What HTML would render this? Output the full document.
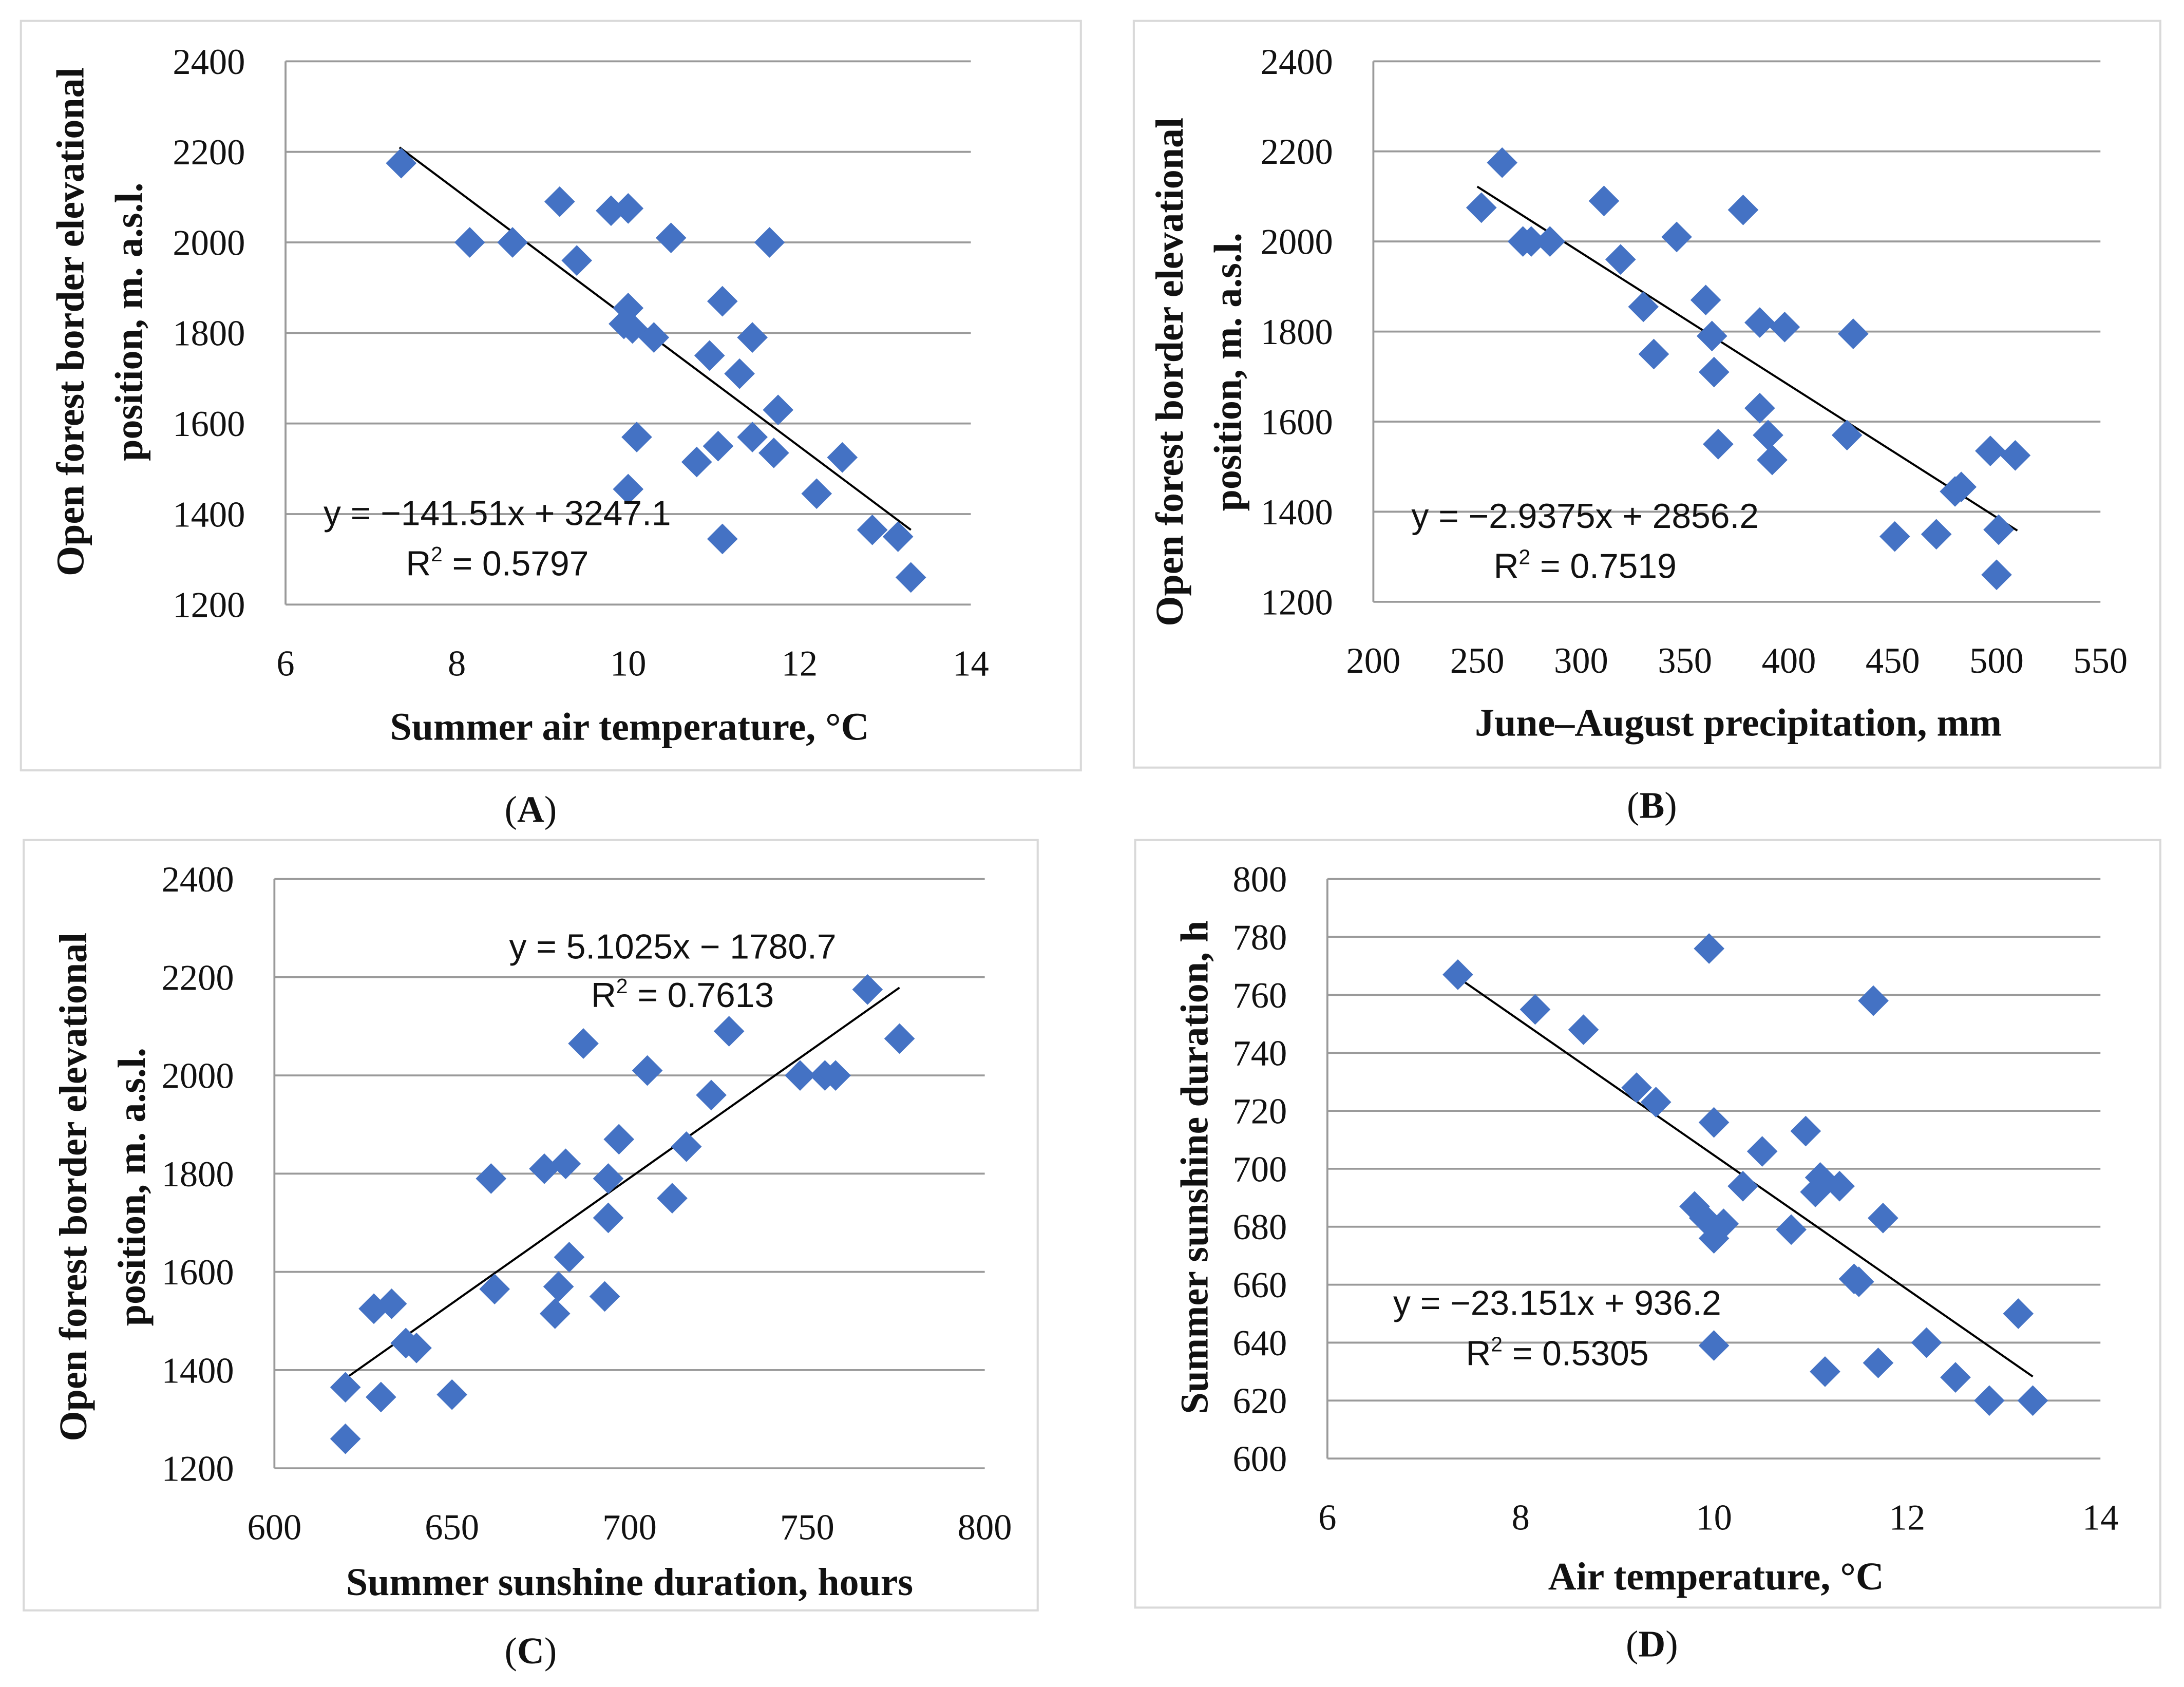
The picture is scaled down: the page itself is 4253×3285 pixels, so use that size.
<!DOCTYPE html>
<html><head><meta charset="utf-8">
<style>
html,body{margin:0;padding:0;background:#fff;}
svg{display:block;}
.tick{font-family:"Liberation Serif",serif;font-size:26px;fill:#111;}
.ttl{font-family:"Liberation Serif",serif;font-size:28px;font-weight:bold;fill:#111;}
.eq{font-family:"Liberation Sans",sans-serif;font-size:25px;fill:#111;}
.lab{font-family:"Liberation Serif",serif;font-size:27px;fill:#111;}
</style></head>
<body>
<svg id="fig" xmlns="http://www.w3.org/2000/svg" width="4253" height="3285" viewBox="0 0 1568 1211" preserveAspectRatio="none"></svg>
<script>
// Panel A data: summer air temperature vs elevation
const aX = [7.35,8.15,8.65,9.2,9.4,9.8,10.0,10.5,11.65,10.0,9.95,10.05,10.3,11.1,11.45,10.95,11.3,11.75,10.1,10.8,11.05,11.45,11.7,12.5,12.2,10.0,11.1,12.85,13.15,13.3];
const aY = [2175,2000,2000,2090,1960,2070,2075,2010,2000,1855,1820,1810,1790,1870,1790,1750,1710,1630,1570,1515,1550,1570,1535,1525,1445,1455,1345,1365,1350,1260];
// Panel B data: precipitation vs elevation
const bX = [262,252,272,276,285,311,319,346,378,330,335,360,363,364,366,386,398,386,390,392,428,431,451,471,480,497,501,500,509,483];
const bY = [2175,2075,2000,2000,2000,2090,1960,2010,2070,1855,1750,1870,1790,1710,1550,1820,1810,1630,1570,1515,1570,1795,1345,1350,1445,1535,1360,1260,1525,1455];
// Panel C data: sunshine vs elevation
const cX = [767,776,728,687,748,755,758,723,705,697,716,694,661,676,682,712,694,683,680,662,679,693,628,633,640,637,630,650,620,620];
const cY = [2175,2075,2090,2065,2000,2000,2000,1960,2010,1870,1855,1790,1790,1810,1820,1750,1710,1630,1570,1565,1515,1550,1525,1535,1445,1455,1345,1350,1365,1260];
// Panel D data: air temperature vs sunshine
const dX = [7.35,8.15,8.65,9.2,9.4,9.95,10.0,10.95,10.5,11.1,11.3,11.05,10.3,9.8,9.9,10.1,10.0,10.8,11.75,11.65,11.45,11.5,10.0,11.15,11.7,12.2,12.5,12.85,13.3,13.15];
const dY = [767,755,748,728,723,776,716,713,706,697,694,692,694,687,683,681,676,679,683,758,662,661,639,630,633,640,628,620,620,650];
// Tick labels
const elevTicks = [1200,1400,1600,1800,2000,2200,2400];
const tempTicks = [6,8,10,12,14];
const precTicks = [200,250,300,350,400,450,500,550];
const sunTicks = [600,650,700,750,800];
const sunYTicks = [600,620,640,660,680,700,720,740,760,780,800];
// Trend coefficients [slope, intercept, xStart, xEnd]
const trendA = [-141.51,3247.1,7.33,13.3];
const trendB = [-2.9375,2856.2,250,510];
const trendC = [5.1025,-1780.7,620,776];
const trendD = [-23.151,936.2,7.33,13.3];

const NS="http://www.w3.org/2000/svg";
const svg=document.getElementById('fig');
function mk(tag,attrs,parent){const e=document.createElementNS(NS,tag);for(const k in attrs)e.setAttribute(k,attrs[k]);(parent||svg).appendChild(e);return e;}

function panel(cfg){
  const g=mk('g',{});
  
  
  const fr=mk('rect',{x:cfg.frame[0],y:cfg.frame[1],width:cfg.frame[2]-cfg.frame[0],height:cfg.frame[3]-cfg.frame[1],fill:'#fff',stroke:'#d9d9d9','stroke-width':1.5},g);
  
  
  const [x0,x1,y0,y1]=cfg.px;
  const sx=v=>x0+(v-cfg.xd[0])/(cfg.xd[1]-cfg.xd[0])*(x1-x0);
  const sy=v=>y0-(v-cfg.yd[0])/(cfg.yd[1]-cfg.yd[0])*(y0-y1);
  cfg.yt.forEach(t=>{
    const l=mk('line',{x1:x0,x2:x1,y1:sy(t),y2:sy(t),stroke:'#9a9a9a','stroke-width':1.4},g);
    
    
    const tx=mk('text',{x:x0-29,y:sy(t)+9,'text-anchor':'end',class:'tick'},g);
    tx.textContent=t;
    
    
  });
  const ax=mk('line',{x1:x0,x2:x0,y1:y0,y2:y1,stroke:'#9a9a9a','stroke-width':1.4},g);
  
  
  cfg.xt.forEach(t=>{
    const tx=mk('text',{x:sx(t),y:y0+51,'text-anchor':'middle',class:'tick'},g);
    tx.textContent=t;
    
    
  });
  const tr=cfg.trend;
  const tl=mk('line',{x1:sx(tr[2]),y1:sy(tr[0]*tr[2]+tr[1]),x2:sx(tr[3]),y2:sy(tr[0]*tr[3]+tr[1]),stroke:'#000','stroke-width':1.5},g);
  
  
  cfg.xs.forEach((v,i)=>{
    const cx=sx(v),cy=sy(cfg.ys[i]),r=11;
    const p=mk('polygon',{points:`${cx},${cy-r} ${cx+r},${cy} ${cx},${cy+r} ${cx-r},${cy}`,fill:'#4472c4'},g);
    
    
  });
  const e1=mk('text',{x:cfg.eq[0],y:cfg.eq[1],'text-anchor':'middle',class:'eq'},g);
  e1.textContent=cfg.eqText;
  
  
  const e2=mk('text',{x:cfg.eq[2],y:cfg.eq[3],'text-anchor':'middle',class:'eq'},g);
  e2.innerHTML='R<tspan dy="-10" font-size="15">2</tspan><tspan dy="10"> = '+cfg.r2+'</tspan>';
  
  
  const xt=mk('text',{x:cfg.xtitle[0],y:cfg.xtitle[1],'text-anchor':'middle',class:'ttl'},g);
  xt.textContent=cfg.xTitle;
  
  
  cfg.yTitle.forEach((s,i)=>{
    const px=cfg.ytitle[0]+i*42, py=cfg.ytitle[1];
    const yt=mk('text',{x:px,y:py,'text-anchor':'middle',class:'ttl',transform:`rotate(-90 ${px} ${py})`},g);
    yt.textContent=s;
    
    
  });
  const lb=mk('text',{x:cfg.lab[0],y:cfg.lab[1],'text-anchor':'middle',class:'lab'},g);
  lb.innerHTML='(<tspan font-weight="bold">'+cfg.id.toUpperCase()+'</tspan>)';
  
  
}
const yT2=["Open forest border elevational","position, m. a.s.l."];
panel({id:'a',frame:[15,15,776,553],px:[205,697,434,44],xd:[6,14],yd:[1200,2400],xt:tempTicks,yt:elevTicks,xs:aX,ys:aY,trend:trendA,
  eq:[357,377,357,413],eqText:'y = \u2212141.51x + 3247.1',r2:'0.5797',xtitle:[452,531],xTitle:'Summer air temperature, \u00b0C',ytitle:[60,231],yTitle:yT2,lab:[381,590]});
panel({id:'b',frame:[814,15,1551,551],px:[986,1508,432,44],xd:[200,550],yd:[1200,2400],xt:precTicks,yt:elevTicks,xs:bX,ys:bY,trend:trendB,
  eq:[1138,379,1138,415],eqText:'y = \u22122.9375x + 2856.2',r2:'0.7519',xtitle:[1248,528],xTitle:'June\u2013August precipitation, mm',ytitle:[849,267],yTitle:yT2,lab:[1186,587]});
panel({id:'c',frame:[17,603,745,1156],px:[197,707,1054,631],xd:[600,800],yd:[1200,2400],xt:sunTicks,yt:elevTicks,xs:cX,ys:cY,trend:trendC,
  eq:[483,688,490,723],eqText:'y = 5.1025x \u2212 1780.7',r2:'0.7613',xtitle:[452,1145],xTitle:'Summer sunshine duration, hours',ytitle:[62,852],yTitle:yT2,lab:[381,1194]});
panel({id:'d',frame:[815,603,1551,1154],px:[953,1508,1047,631],xd:[6,14],yd:[600,800],xt:tempTicks,yt:sunYTicks,xs:dX,ys:dY,trend:trendD,
  eq:[1118,944,1118,980],eqText:'y = \u221223.151x + 936.2',r2:'0.5305',xtitle:[1232,1141],xTitle:'Air temperature, \u00b0C',ytitle:[867,838],yTitle:["Summer sunshine duration, h"],lab:[1186,1189]});
</script>
</body></html>
